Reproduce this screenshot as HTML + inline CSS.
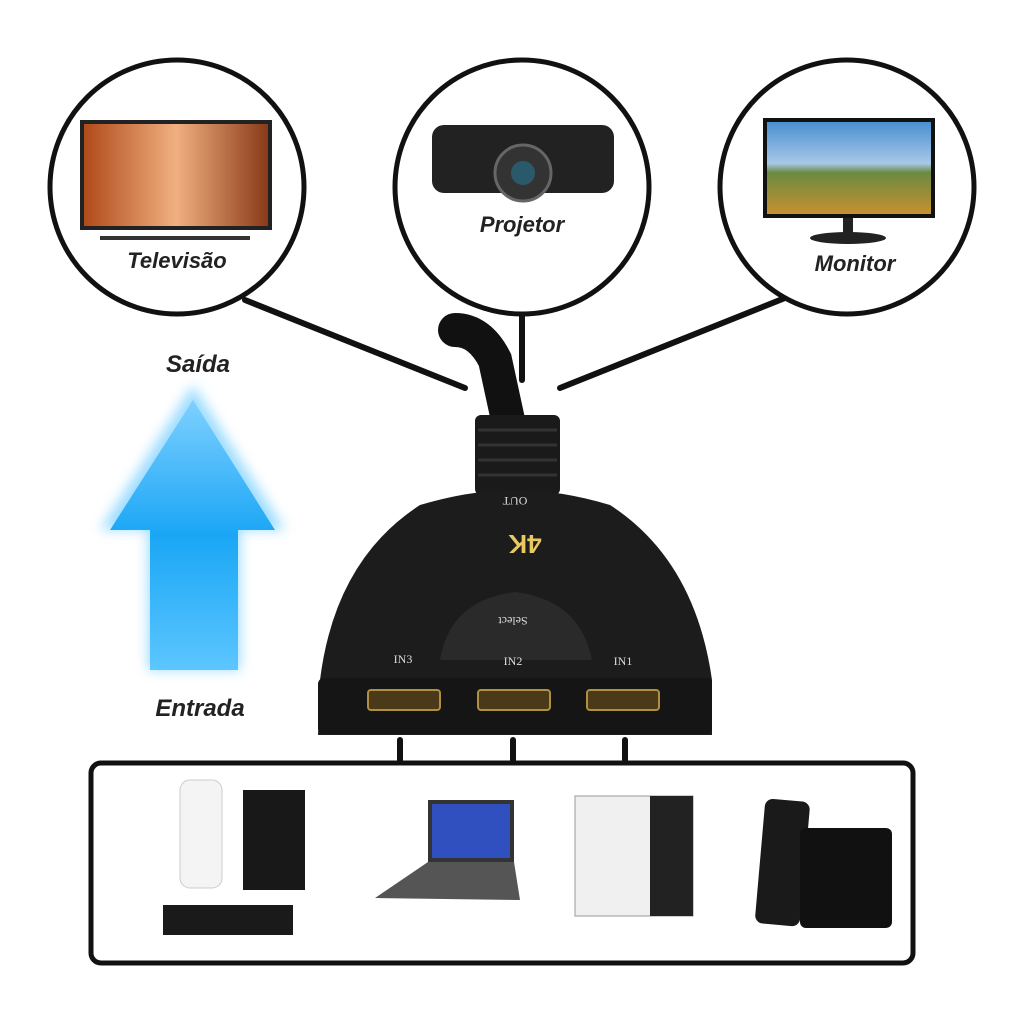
<!DOCTYPE html>
<html><head><meta charset="utf-8"><style>
body{margin:0;width:1024px;height:1024px;background:#fff;overflow:hidden;font-family:"Liberation Sans",sans-serif}
.lbl{font-weight:bold;font-style:italic;font-size:22px;fill:#222}
</style></head><body>
<svg width="1024" height="1024" viewBox="0 0 1024 1024" xmlns="http://www.w3.org/2000/svg">
<defs>
<linearGradient id="ar" x1="0" y1="0" x2="0" y2="1"><stop offset="0" stop-color="#7fd0ff"/><stop offset="0.5" stop-color="#1aa6f5"/><stop offset="1" stop-color="#5cc6ff"/></linearGradient>
<linearGradient id="tv" x1="0" y1="0" x2="1" y2="0"><stop offset="0" stop-color="#b04a1a"/><stop offset="0.5" stop-color="#f0b080"/><stop offset="1" stop-color="#8a3a18"/></linearGradient>
<linearGradient id="mon" x1="0" y1="0" x2="0" y2="1"><stop offset="0" stop-color="#4a8fd0"/><stop offset="0.45" stop-color="#a8c8e8"/><stop offset="0.55" stop-color="#6a8a40"/><stop offset="1" stop-color="#c89030"/></linearGradient>
<filter id="bl"><feGaussianBlur stdDeviation="6"/></filter>
</defs>
<!-- connector lines -->
<g stroke="#111" stroke-width="6" stroke-linecap="round">
<line x1="245" y1="300" x2="465" y2="388"/>
<line x1="522" y1="315" x2="522" y2="380"/>
<line x1="785" y1="298" x2="560" y2="388"/>
<line x1="400" y1="740" x2="400" y2="760"/>
<line x1="513" y1="740" x2="513" y2="760"/>
<line x1="625" y1="740" x2="625" y2="760"/>
</g>
<!-- circles -->
<g fill="#fff" stroke="#111" stroke-width="5">
<circle cx="177" cy="187" r="127"/><circle cx="522" cy="187" r="127"/><circle cx="847" cy="187" r="127"/>
</g>
<!-- TV -->
<rect x="80" y="120" width="192" height="110" fill="#222"/>
<rect x="84" y="124" width="184" height="102" fill="url(#tv)"/>
<rect x="100" y="236" width="150" height="4" fill="#333"/>
<text x="177" y="268" text-anchor="middle" class="lbl">Televisão</text>
<!-- Projector -->
<rect x="432" y="125" width="182" height="68" rx="12" fill="#222"/>
<circle cx="523" cy="173" r="28" fill="#333" stroke="#666" stroke-width="3"/>
<circle cx="523" cy="173" r="12" fill="#2a5a6a"/>
<text x="522" y="232" text-anchor="middle" class="lbl">Projetor</text>
<!-- Monitor -->
<rect x="763" y="118" width="172" height="100" fill="#111"/>
<rect x="767" y="122" width="164" height="92" fill="url(#mon)"/>
<rect x="843" y="218" width="10" height="16" fill="#222"/>
<ellipse cx="848" cy="238" rx="38" ry="6" fill="#222"/>
<text x="855" y="271" text-anchor="middle" class="lbl">Monitor</text>
<!-- arrow -->
<g filter="url(#bl)" opacity="0.6"><polygon points="193,385 285,530 240,530 240,670 148,670 148,530 100,530" fill="#5cc6ff"/></g>
<polygon points="193,400 275,530 238,530 238,670 150,670 150,530 110,530" fill="url(#ar)"/>
<text x="198" y="372" text-anchor="middle" class="lbl" style="font-size:24px">Saída</text>
<text x="200" y="716" text-anchor="middle" class="lbl" style="font-size:24px">Entrada</text>
<!-- switch -->
<path d="M455,330 Q480,330 495,360 L508,420" stroke="#111" stroke-width="34" fill="none" stroke-linecap="round"/>
<rect x="475" y="415" width="85" height="80" rx="6" fill="#1a1a1a"/>
<g stroke="#333" stroke-width="3"><line x1="478" y1="430" x2="557" y2="430"/><line x1="478" y1="445" x2="557" y2="445"/><line x1="478" y1="460" x2="557" y2="460"/><line x1="478" y1="475" x2="557" y2="475"/></g>
<path d="M320,680 Q335,560 420,505 Q470,490 515,490 Q560,490 610,505 Q695,560 712,680 L712,735 L318,735 Z" fill="#1c1c1c"/>
<path d="M440,660 Q450,600 515,592 Q580,600 592,660 Z" fill="#2a2a2a"/>
<rect x="318" y="678" width="394" height="56" rx="6" fill="#151515"/>
<g fill="#4a3a1a" stroke="#b09040" stroke-width="2">
<rect x="368" y="690" width="72" height="20" rx="3"/><rect x="478" y="690" width="72" height="20" rx="3"/><rect x="587" y="690" width="72" height="20" rx="3"/>
</g>
<g fill="#ddd" font-family="Liberation Serif,serif" font-size="12" text-anchor="middle">
<text x="515" y="505" transform="rotate(180 515 501)">OUT</text>
<text x="403" y="663">IN3</text><text x="513" y="665">IN2</text><text x="623" y="665">IN1</text>
<text x="513" y="625" transform="rotate(180 513 621)">Select</text>
</g>
<text x="525" y="555" transform="rotate(180 525 545)" fill="#e8c860" font-weight="bold" font-size="26" text-anchor="middle">4K</text>
<!-- bottom box -->
<rect x="91" y="763" width="822" height="200" rx="10" fill="#fff" stroke="#111" stroke-width="5"/>
<rect x="180" y="780" width="42" height="108" rx="10" fill="#f4f4f4" stroke="#ccc"/>
<rect x="243" y="790" width="62" height="100" fill="#181818"/>
<rect x="163" y="905" width="130" height="30" fill="#1a1a1a"/>
<rect x="428" y="800" width="86" height="62" fill="#333"/>
<rect x="432" y="804" width="78" height="54" fill="#3050c0"/>
<polygon points="428,862 514,862 520,900 375,898" fill="#555"/>
<rect x="575" y="796" width="118" height="120" fill="#f0f0f0" stroke="#999"/>
<rect x="650" y="796" width="43" height="120" fill="#222"/>
<rect x="760" y="800" width="45" height="125" rx="8" fill="#1a1a1a" transform="rotate(5 782 862)"/>
<rect x="800" y="828" width="92" height="100" rx="6" fill="#111"/>
</svg>
</body></html>
